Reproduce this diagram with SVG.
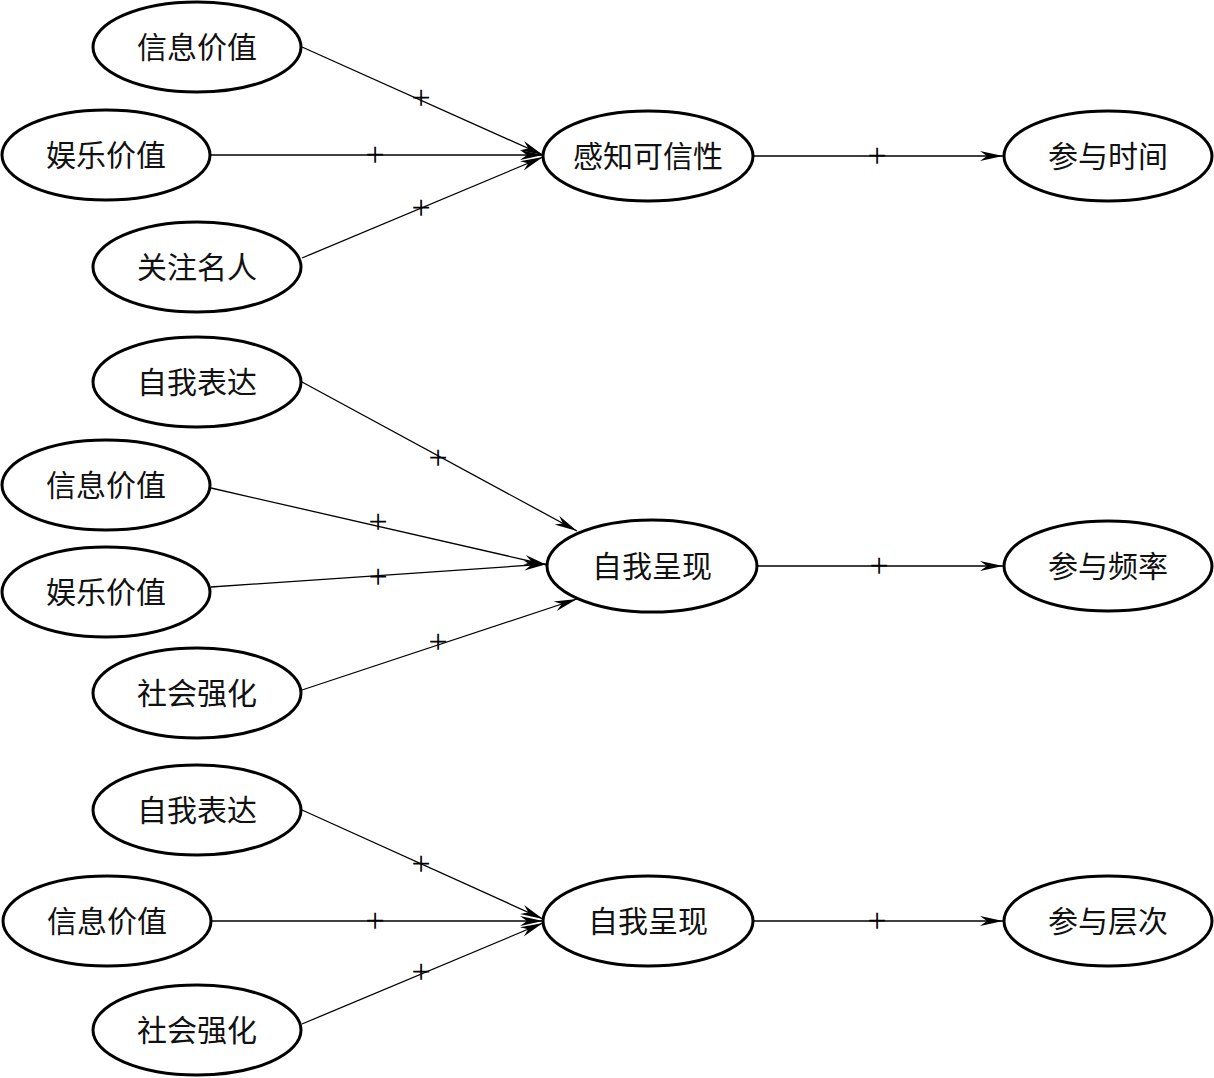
<svg xmlns="http://www.w3.org/2000/svg" width="1214" height="1078" viewBox="0 0 1214 1078">
<style>
.n ellipse{fill:#fff;stroke:#000;stroke-width:3}
.n text{font-family:"Noto Sans CJK SC",sans-serif;font-size:30px;text-anchor:middle;fill:#111}
.e line{stroke:#000;stroke-width:1.3;marker-end:url(#ah)}
.p{font-family:"Liberation Serif",serif;font-size:34px;text-anchor:middle;fill:#000;text-rendering:geometricPrecision}
</style>
<defs>
<marker id="ah" markerUnits="userSpaceOnUse" markerWidth="24" markerHeight="12" viewBox="0 0 24 12" refX="23" refY="6" orient="auto">
<path d="M0,1 L23,6 L0,11 L7,6 z" fill="#000"/>
</marker>
</defs>
<rect width="1214" height="1078" fill="#fff"/>
<g class="e" id="connectors">
<line x1="302" y1="47" x2="543" y2="155"/>
<line x1="211" y1="155" x2="543" y2="155"/>
<line x1="302" y1="258" x2="543" y2="157"/>
<line x1="753" y1="156" x2="1003" y2="156"/>
<line x1="302" y1="382" x2="577" y2="531"/>
<line x1="211" y1="488" x2="547" y2="565"/>
<line x1="211" y1="587" x2="547" y2="564"/>
<line x1="302" y1="690" x2="577" y2="599"/>
<line x1="758" y1="566" x2="1003" y2="566"/>
<line x1="302" y1="810" x2="543" y2="919"/>
<line x1="212" y1="921" x2="543" y2="921"/>
<line x1="302" y1="1024" x2="543" y2="923"/>
<line x1="753" y1="921" x2="1003" y2="921"/>
<text class="p" x="421" y="109">+</text>
<text class="p" x="375" y="166">+</text>
<text class="p" x="421" y="219">+</text>
<text class="p" x="877" y="167">+</text>
<text class="p" x="438" y="469">+</text>
<text class="p" x="378" y="533">+</text>
<text class="p" x="378" y="588">+</text>
<text class="p" x="438" y="653">+</text>
<text class="p" x="879" y="577">+</text>
<text class="p" x="421" y="875">+</text>
<text class="p" x="375" y="932">+</text>
<text class="p" x="421" y="983">+</text>
<text class="p" x="877" y="932">+</text>
</g>
<g class="n" id="r1_info"><ellipse cx="197" cy="47" rx="104" ry="45"/><text x="197" y="58">信息价值</text></g>
<g class="n" id="r1_ent"><ellipse cx="106" cy="155" rx="104" ry="45"/><text x="106" y="166">娱乐价值</text></g>
<g class="n" id="r1_celeb"><ellipse cx="197" cy="267" rx="104" ry="45"/><text x="197" y="278">关注名人</text></g>
<g class="n" id="r1_cred"><ellipse cx="648" cy="156" rx="105" ry="45"/><text x="648" y="167">感知可信性</text></g>
<g class="n" id="r1_time"><ellipse cx="1108" cy="156" rx="104" ry="45"/><text x="1108" y="167">参与时间</text></g>
<g class="n" id="r2_expr"><ellipse cx="197" cy="382" rx="104" ry="45"/><text x="197" y="393">自我表达</text></g>
<g class="n" id="r2_info"><ellipse cx="106" cy="485" rx="104" ry="45"/><text x="106" y="496">信息价值</text></g>
<g class="n" id="r2_ent"><ellipse cx="106" cy="592" rx="104" ry="45"/><text x="106" y="603">娱乐价值</text></g>
<g class="n" id="r2_soc"><ellipse cx="197" cy="693" rx="104" ry="45"/><text x="197" y="704">社会强化</text></g>
<g class="n" id="r2_pres"><ellipse cx="652" cy="566" rx="105" ry="46"/><text x="652" y="577">自我呈现</text></g>
<g class="n" id="r2_freq"><ellipse cx="1108" cy="566" rx="104" ry="45"/><text x="1108" y="577">参与频率</text></g>
<g class="n" id="r3_expr"><ellipse cx="197" cy="810" rx="104" ry="45"/><text x="197" y="821">自我表达</text></g>
<g class="n" id="r3_info"><ellipse cx="107" cy="921" rx="104" ry="45"/><text x="107" y="932">信息价值</text></g>
<g class="n" id="r3_soc"><ellipse cx="197" cy="1030" rx="104" ry="45"/><text x="197" y="1041">社会强化</text></g>
<g class="n" id="r3_pres"><ellipse cx="648" cy="921" rx="105" ry="45"/><text x="648" y="932">自我呈现</text></g>
<g class="n" id="r3_level"><ellipse cx="1108" cy="921" rx="104" ry="45"/><text x="1108" y="932">参与层次</text></g>
</svg>
